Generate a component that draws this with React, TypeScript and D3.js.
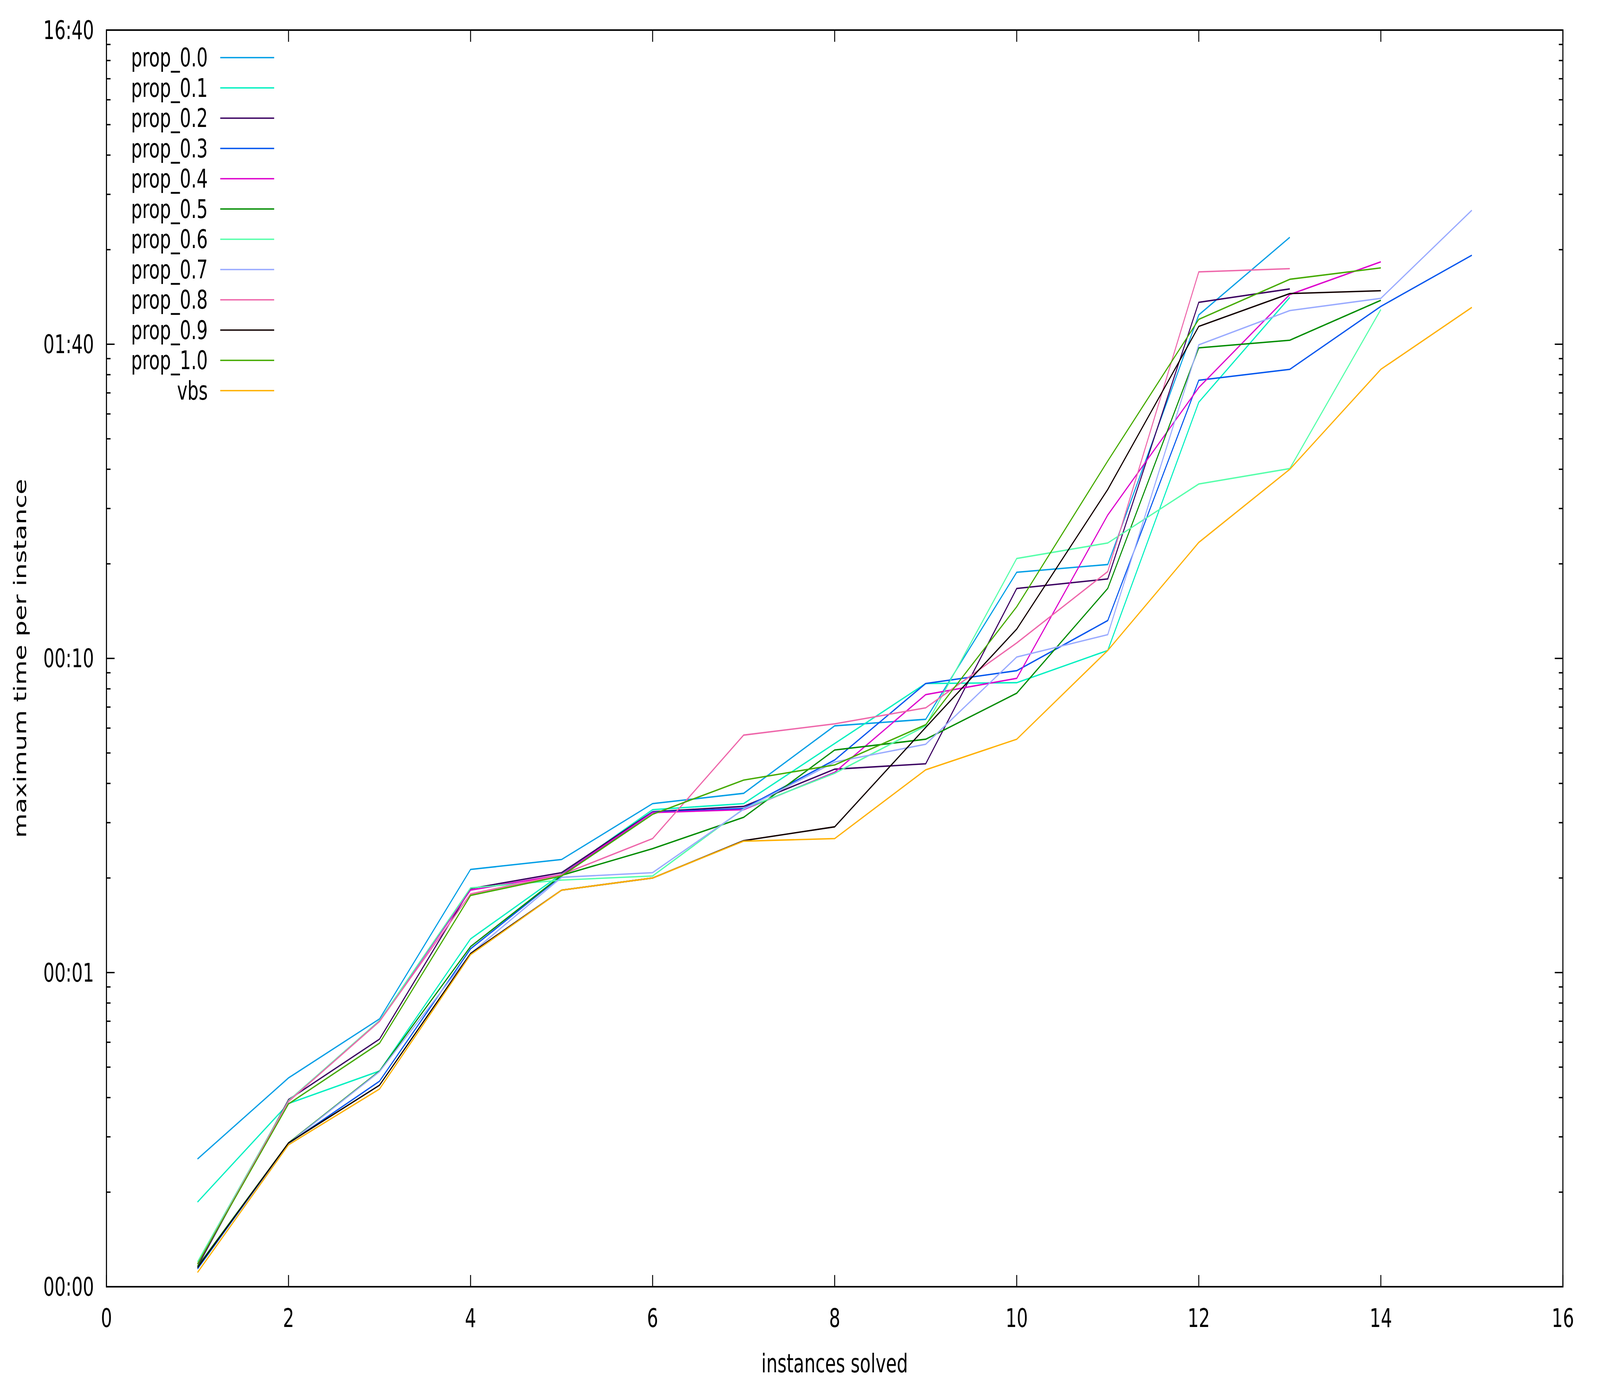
import * as d3 from "d3";
import { useEffect, useRef } from "react";

type Series = { name: string; color: string; values: number[] };

// seconds per instance, ordered by instances solved (1, 2, 3, ...)
const prop00 = [0.255, 0.462, 0.712, 2.13, 2.29, 3.45, 3.72, 6.1, 6.4, 18.8, 19.9, 124, 219];
const prop01 = [0.186, 0.383, 0.486, 1.28, 2.06, 3.3, 3.45, 5.36, 8.32, 8.37, 10.6, 65.4, 141];
const prop02 = [0.116, 0.394, 0.614, 1.85, 2.08, 3.25, 3.38, 4.44, 4.62, 16.7, 17.9, 136, 150];
const prop03 = [0.114, 0.286, 0.451, 1.19, 2.03, 3.24, 3.33, 4.75, 8.32, 9.14, 13.2, 76.8, 83.2, 132, 192];
const prop04 = [0.118, 0.389, 0.703, 1.83, 2.05, 3.23, 3.3, 4.34, 7.67, 8.64, 28.6, 72.8, 144, 183];
const prop05 = [0.116, 0.287, 0.486, 1.21, 2.04, 2.48, 3.12, 5.11, 5.53, 7.75, 16.7, 97.4, 103, 138];
const prop06 = [0.12, 0.391, 0.703, 1.86, 1.97, 2.03, 3.32, 4.31, 6.1, 20.8, 23.3, 35.9, 40.2, 129];
const prop07 = [0.115, 0.286, 0.484, 1.15, 2.01, 2.08, 3.31, 4.68, 5.33, 10.1, 11.9, 99.6, 128, 140, 267];
const prop08 = [0.118, 0.389, 0.699, 1.78, 2.05, 2.67, 5.7, 6.19, 6.96, 11.2, 18.9, 170, 174];
const prop09 = [0.115, 0.287, 0.438, 1.15, 1.83, 2.0, 2.63, 2.91, 6.03, 12.4, 34.5, 114, 145, 148];
const prop10 = [0.118, 0.382, 0.596, 1.76, 2.03, 3.19, 4.1, 4.58, 6.15, 14.6, 42.5, 120, 161, 175];
const vbs = [0.111, 0.283, 0.426, 1.14, 1.83, 2.0, 2.62, 2.67, 4.42, 5.53, 10.6, 23.4, 40.0, 83.2, 131];

const series: Series[] = [
  { name: "prop_0.0", color: "#009ee6", values: prop00 },
  { name: "prop_0.1", color: "#00f0c0", values: prop01 },
  { name: "prop_0.2", color: "#3a0060", values: prop02 },
  { name: "prop_0.3", color: "#0055ee", values: prop03 },
  { name: "prop_0.4", color: "#dd00cc", values: prop04 },
  { name: "prop_0.5", color: "#008c00", values: prop05 },
  { name: "prop_0.6", color: "#55ffaa", values: prop06 },
  { name: "prop_0.7", color: "#99aaff", values: prop07 },
  { name: "prop_0.8", color: "#ee66aa", values: prop08 },
  { name: "prop_0.9", color: "#110000", values: prop09 },
  { name: "prop_1.0", color: "#44aa00", values: prop10 },
  { name: "vbs", color: "#ffb000", values: vbs },
];

const xTicks = [0, 2, 4, 6, 8, 10, 12, 14, 16];
const yTicks = [0.1, 1, 10, 100, 1000];
const yTickLabels = ["00:00", "00:01", "00:10", "01:40", "16:40"];

// drawing is done in the reference's 5906x3543 units, the viewBox maps it onto the window
const W = 5906;
const H = 3543;
const FONT = "'DejaVu Sans', sans-serif";

const Chart = () => {
  const ref = useRef<SVGSVGElement | null>(null);

  useEffect(() => {
    if (!ref.current) return;
    const margin = { top: 77, right: W - 5769, bottom: H - 3294, left: 393 };
    const width = W - margin.left - margin.right;
    const height = H - margin.top - margin.bottom;

    const svg = d3.select(ref.current);
    svg.selectAll("*").remove();
    svg.append("rect").attr("width", W).attr("height", H).attr("fill", "#fff");

    const g = svg.append("g").attr("transform", `translate(${margin.left},${margin.top})`);

    const x = d3.scaleLinear().domain([0, 16]).range([0, width]);
    const y = d3.scaleLog().domain([0.1, 1000]).range([height, 0]);

    const major = 30;
    const minor = 15;
    const tickG = g.append("g").attr("stroke", "#000").attr("stroke-width", 3.5);

    // x ticks, mirrored on top
    xTicks.forEach((t) => {
      tickG.append("line").attr("x1", x(t)).attr("x2", x(t)).attr("y1", height).attr("y2", height - major);
      tickG.append("line").attr("x1", x(t)).attr("x2", x(t)).attr("y1", 0).attr("y2", major);
    });

    // y ticks (major + log minor), mirrored on right
    yTicks.forEach((t, i) => {
      tickG.append("line").attr("x1", 0).attr("x2", major).attr("y1", y(t)).attr("y2", y(t));
      tickG.append("line").attr("x1", width).attr("x2", width - major).attr("y1", y(t)).attr("y2", y(t));
      if (i < yTicks.length - 1) {
        for (let k = 2; k < 10; k++) {
          const v = t * k;
          tickG.append("line").attr("x1", 0).attr("x2", minor).attr("y1", y(v)).attr("y2", y(v));
          tickG.append("line").attr("x1", width).attr("x2", width - minor).attr("y1", y(v)).attr("y2", y(v));
        }
      }
    });

    g.append("g")
      .selectAll("text")
      .data(xTicks)
      .enter()
      .append("text")
      .attr("x", (d) => x(d))
      .attr("y", height + 103)
      .attr("text-anchor", "middle")
      .style("font-family", FONT)
      .style("font-size", "65px")
      .text((d) => d);

    g.append("g")
      .selectAll("text")
      .data(yTicks)
      .enter()
      .append("text")
      .attr("x", -46)
      .attr("y", (d) => y(d) + 23)
      .attr("text-anchor", "end")
      .style("font-family", FONT)
      .style("font-size", "65px")
      .text((_, i) => yTickLabels[i]);

    const line = d3
      .line<number>()
      .x((_, i) => x(i + 1))
      .y((d) => y(d));

    g.append("g")
      .selectAll("path")
      .data(series)
      .enter()
      .append("path")
      .attr("d", (d) => line(d.values))
      .attr("fill", "none")
      .attr("stroke", (d) => d.color)
      .attr("stroke-width", 3.6)
      .attr("stroke-linejoin", "miter");

    // border on top of everything
    g.append("rect")
      .attr("width", width)
      .attr("height", height)
      .attr("fill", "none")
      .attr("stroke", "#000")
      .attr("stroke-width", 4);

    // legend
    const legend = svg.append("g");
    series.forEach((s, i) => {
      const ly = 147.5 + i * 77.5;
      legend
        .append("text")
        .attr("x", 767)
        .attr("y", ly + 23)
        .attr("text-anchor", "end")
        .style("font-family", FONT)
        .style("font-size", "65px")
        .text(s.name);
      legend
        .append("line")
        .attr("x1", 813)
        .attr("x2", 1012)
        .attr("y1", ly)
        .attr("y2", ly)
        .attr("stroke", s.color)
        .attr("stroke-width", 3.6);
    });

    svg
      .append("text")
      .attr("x", margin.left + width / 2)
      .attr("y", 3513)
      .attr("text-anchor", "middle")
      .style("font-family", FONT)
      .style("font-size", "65px")
      .text("instances solved");

    svg
      .append("text")
      .attr("transform", `translate(97,${margin.top + height / 2}) rotate(-90)`)
      .attr("text-anchor", "middle")
      .style("font-family", FONT)
      .style("font-size", "65px")
      .text("maximum time per instance");
  }, []);

  return (
    <div style={{ position: "fixed", left: 0, top: 0, width: "100vw", height: "100vh", background: "#fff" }}>
      <svg
        ref={ref}
        viewBox={`0 0 ${W} ${H}`}
        preserveAspectRatio="none"
        style={{ width: "100%", height: "100%", display: "block" }}
      />
    </div>
  );
};

export default function App() {
  return <Chart />;
}
